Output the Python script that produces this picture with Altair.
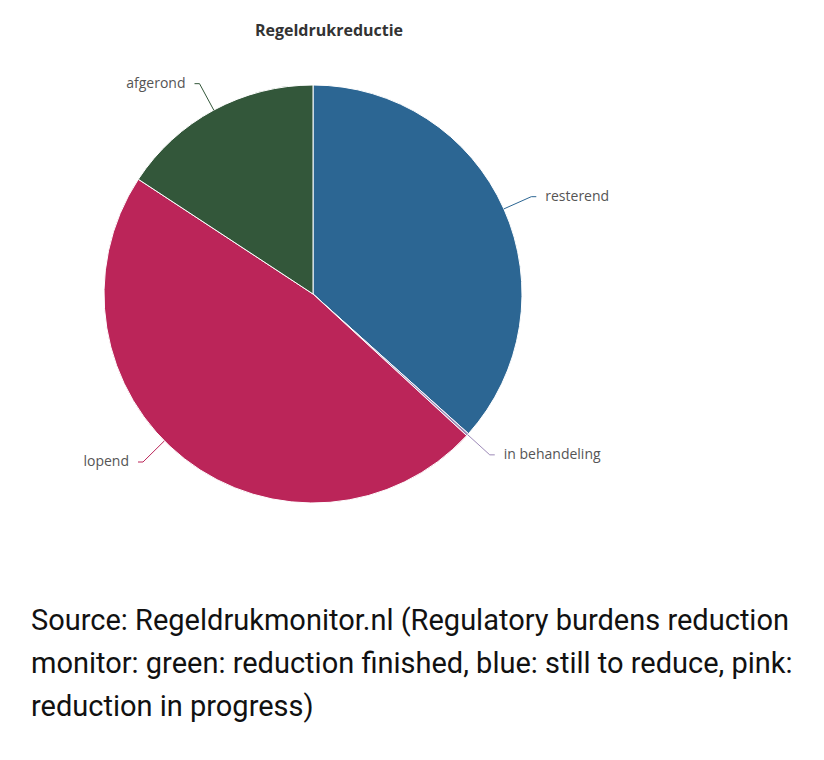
import altair as alt
import pandas as pd

# ---- data ----
categories = ["resterend", "in behandeling", "lopend", "afgerond"]
values = [36.65, 0.2, 47.4, 15.75]
colors = ["#2c6693", "#9d8ab8", "#bb2559", "#33573a"]
order = [1, 2, 3, 4]

title_text = ["Regeldrukreductie"]
caption_lines = [
    "Source: Regeldrukmonitor.nl (Regulatory burdens reduction",
    "monitor: green: reduction finished, blue: still to reduce, pink:",
    "reduction in progress)",
]

# ---- layout parameters ----
CX, CY, R = 313, 294, 209
LR = R + 30          # radius of connector elbow
YMAX = CY + 168      # lower limit for labels (plot area)

df = pd.DataFrame({"cat": categories, "value": values, "idx": order})

color_scale = alt.Scale(domain=categories, range=colors)

base = alt.Chart(df)

pie = base.mark_arc(outerRadius=R, stroke="white", strokeWidth=1).encode(
    theta=alt.Theta("value:Q", stack=True),
    color=alt.Color("cat:N", scale=color_scale, legend=None),
    order=alt.Order("idx:Q"),
    x=alt.value(CX),
    y=alt.value(CY),
)

geo = base.transform_window(
    cum="sum(value)", sort=[alt.SortField("idx")], frame=[None, 0]
).transform_joinaggregate(
    total="sum(value)"
).transform_calculate(
    mid="2*PI*(datum.cum - datum.value/2)/datum.total"
).transform_calculate(
    right="sin(datum.mid) >= 0",
    ey0=f"{CY} - {LR}*cos(datum.mid)",
).transform_calculate(
    ey=f"min(datum.ey0, {YMAX})"
).transform_calculate(
    ex=f"datum.right ? {CX} + sqrt({LR}*{LR} - pow(datum.ey-{CY},2)) : {CX} - sqrt({LR}*{LR} - pow(datum.ey-{CY},2))"
).transform_calculate(
    d=f"sqrt(pow(datum.ex-{CX},2)+pow(datum.ey-{CY},2))"
).transform_calculate(
    sx=f"{CX} + {R}*(datum.ex-{CX})/datum.d",
    sy=f"{CY} + {R}*(datum.ey-{CY})/datum.d",
    hx="datum.right ? datum.ex + 5 : datum.ex - 5",
).transform_calculate(
    tx="datum.right ? datum.hx + 9 : datum.hx - 9"
)

seg1 = geo.mark_rule(strokeWidth=1).encode(
    x=alt.X("sx:Q", scale=None),
    y=alt.Y("sy:Q", scale=None),
    x2="ex:Q",
    y2="ey:Q",
    color=alt.Color("cat:N", scale=color_scale, legend=None),
)
seg2 = geo.mark_rule(strokeWidth=1).encode(
    x=alt.X("ex:Q", scale=None),
    y=alt.Y("ey:Q", scale=None),
    x2="hx:Q",
    y2="ey:Q",
    color=alt.Color("cat:N", scale=color_scale, legend=None),
)

lab_kw = dict(font="Open Sans", fontSize=14, color="#555555", baseline="middle")
lab_r = geo.transform_filter("datum.right").mark_text(align="left", **lab_kw).encode(
    x=alt.X("tx:Q", scale=None), y=alt.Y("ey:Q", scale=None), text="cat:N"
)
lab_l = geo.transform_filter("!datum.right").mark_text(align="right", **lab_kw).encode(
    x=alt.X("tx:Q", scale=None), y=alt.Y("ey:Q", scale=None), text="cat:N"
)

title = alt.Chart(pd.DataFrame({"t": title_text})).mark_text(
    font="Open Sans", fontSize=16, fontWeight="bold", color="#333333",
    align="center", baseline="middle",
).encode(text="t:N", x=alt.value(329), y=alt.value(31))

caption = alt.Chart(pd.DataFrame({"t": ["\n".join(caption_lines)]})).mark_text(
    font="Roboto", fontSize=29, color="#111111", align="left",
    baseline="alphabetic", lineBreak="\n", lineHeight=43,
).encode(text="t:N", x=alt.value(31), y=alt.value(630))

chart = alt.layer(pie, seg1, seg2, lab_r, lab_l, title, caption).properties(
    width=824, height=760, padding=0, autosize=alt.AutoSizeParams(type="none"),
    background="white",
).configure_view(stroke=None)

chart.save("out.html", embed_options={"renderer": "svg", "actions": False})
